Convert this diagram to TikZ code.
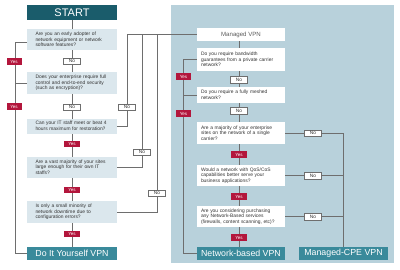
\documentclass[tikz,border=0pt]{standalone}
\usepackage{fontspec}
\setmainfont{Liberation Sans}
\usetikzlibrary{calc}
\definecolor{darkteal}{HTML}{1A5C6B}
\definecolor{endteal}{HTML}{3A8A9B}
\definecolor{panelblue}{HTML}{B8D1DB}
\definecolor{qfill}{HTML}{DBE7ED}
\definecolor{yesred}{HTML}{B3163C}
\definecolor{linegray}{HTML}{6E6E6E}
\definecolor{txtgray}{HTML}{333333}
\pgfdeclarelayer{panel}
\pgfdeclarelayer{lines}
\pgfsetlayers{panel,lines,main}
\begin{document}
\begin{tikzpicture}[x=1pt,y=-1pt,
  qtext/.style={font=\fontsize{4.9}{5.7}\selectfont, text=txtgray, align=left, inner ysep=0pt},
  qleft/.style={qtext, fill=qfill, minimum width=90pt, inner xsep=8.5pt, text width=73pt},
  qright/.style={qtext, fill=white, minimum width=88pt, inner xsep=4pt, text width=80pt},
  yeslab/.style={fill=yesred, text=white, font=\fontsize{4.5}{5}\selectfont, minimum width=16pt, minimum height=6.5pt, inner sep=0pt},
  nolab/.style={fill=white, draw=linegray, line width=0.5pt, text=txtgray, font=\fontsize{4.8}{5}\selectfont, minimum width=17pt, minimum height=6.5pt, inner sep=0pt},
  title/.style={text=white, inner sep=0pt},
  conn/.style={draw=linegray, line width=0.7pt}
]
\begin{pgfonlayer}{panel}
\fill[white] (0,0) rectangle (400,269);
\fill[panelblue] (171,5) rectangle (394,263);
\end{pgfonlayer}
\useasboundingbox (0,0) rectangle (400,269);

% left column
\node[title, fill=darkteal, minimum width=90pt, minimum height=15pt, font=\fontsize{11}{12}\selectfont] (start) at (72,12.5) {START};
\node[qleft, minimum height=21pt] (q1) at (72,39.5) {Are you an early adopter of\\network equipment or network\\software features?};
\node[nolab] (no1) at (72,61) {No};
\node[qleft, minimum height=22pt] (q2) at (72,83) {Does your enterprise require full\\control and end-to-end security\\(such as encryption)?};
\node[nolab] (no2) at (72,107) {No};
\node[qleft, minimum height=15pt] (q3) at (72,126) {Can your IT staff meet or beat 4\\hours maximum for restoration?};
\node[yeslab] (yes3) at (72,144) {Yes};
\node[qleft, minimum height=21pt] (q4) at (72,167) {Are a vast majority of your sites\\large enough for their own IT\\staffs?};
\node[yeslab] (yes4) at (72,190) {Yes};
\node[qleft, minimum height=22pt] (q5) at (72,212) {Is only a small minority of\\network downtime due to\\configuration errors?};
\node[yeslab] (yes5) at (72,234) {Yes};
\node[title, fill=endteal, minimum width=90pt, minimum height=13pt, font=\fontsize{8.8}{10}\selectfont] (diy) at (72,253.5) {Do It Yourself VPN};

\coordinate (lt) at (15,0);
\node[yeslab, minimum width=15pt] (yesA) at (14,61.5) {Yes};
\node[yeslab, minimum width=15pt] (yesB) at (14,106.5) {Yes};

\node[nolab] (no3) at (127,107) {No};
\node[nolab] (no4) at (142,152) {No};
\node[nolab] (no5) at (157,193) {No};

% right panel
\node[fill=white, minimum width=88pt, minimum height=13pt, inner sep=0pt, text=txtgray!80, font=\fontsize{6.1}{7}\selectfont] (managed) at (241,34.5) {Managed VPN};
\coordinate (t1) at (127,34.5);
\coordinate (t2) at (142,34.5);
\coordinate (t3) at (157,34.5);
\node[qright, minimum height=23pt] (q6) at (241,59.5) {Do you require bandwidth\\guarantees from a private carrier\\network?};
\node[nolab] (no6) at (239,79.5) {No};
\node[qright, minimum height=16pt] (q7) at (241,95) {Do you require a fully meshed\\network?};
\node[nolab] (no7) at (239,110.5) {No};
\node[qright, minimum height=22pt] (q8) at (241,133) {Are a majority of your enterprise\\sites on the network of a single\\carrier?};
\node[yeslab] (yes8) at (239,154.5) {Yes};
\node[qright, minimum height=21pt] (q9) at (241,175.5) {Would a network with QoS/CoS\\capabilities better serve your\\business applications?};
\node[yeslab] (yes9) at (239,196.5) {Yes};
\node[qright, minimum height=21pt] (q10) at (241,216.5) {Are you considering purchasing\\any Network-Based services\\(firewalls, content scanning, etc)?};
\node[yeslab] (yes10) at (239,237.5) {Yes};
\node[title, fill=endteal, minimum width=88pt, minimum height=13pt, font=\fontsize{8.8}{10}\selectfont] (nbvpn) at (241,253.5) {Network-based VPN};
\node[title, fill=endteal, minimum width=89pt, minimum height=13pt, font=\fontsize{8.8}{10}\selectfont] (cpe) at (343.5,253.5) {Managed-CPE VPN};

\coordinate (pl) at (183,0);
\node[yeslab, minimum width=15pt] (yesC) at (183.5,76.5) {Yes};
\node[yeslab, minimum width=15pt] (yesD) at (183.5,113.5) {Yes};
\node[nolab] (no8) at (313,133) {No};
\node[nolab] (no9) at (313,175.5) {No};
\node[nolab] (no10) at (313,216.5) {No};

\begin{pgfonlayer}{lines}
\draw[conn] (start) -- (diy);
\draw[conn] ($(q1.west)+(0,3)$) -- ($(q1.west -| lt)+(0,3)$) -- (diy.west -| lt) -- (diy.west);
\draw[conn] (q2.west) -- (q2.west -| lt);
\draw[conn] (q3.east) -| (t1) -- (managed.west);
\draw[conn] (q4.east) -| (t2);
\draw[conn] (q5.east) -| (t3);
\draw[conn] (managed.south -| no6) -- (nbvpn.north -| no6);
\draw[conn] (q6.west) -- (q6.west -| pl) -- (nbvpn.west -| pl) -- (nbvpn.west);
\draw[conn] (q7.west) -- (q7.west -| pl);
\draw[conn] (q8.east) -- (q8.east -| cpe) -- (cpe);
\draw[conn] (q9.east) -- (q9.east -| cpe);
\draw[conn] (q10.east) -- (q10.east -| cpe);
\end{pgfonlayer}
\end{tikzpicture}
\end{document}
